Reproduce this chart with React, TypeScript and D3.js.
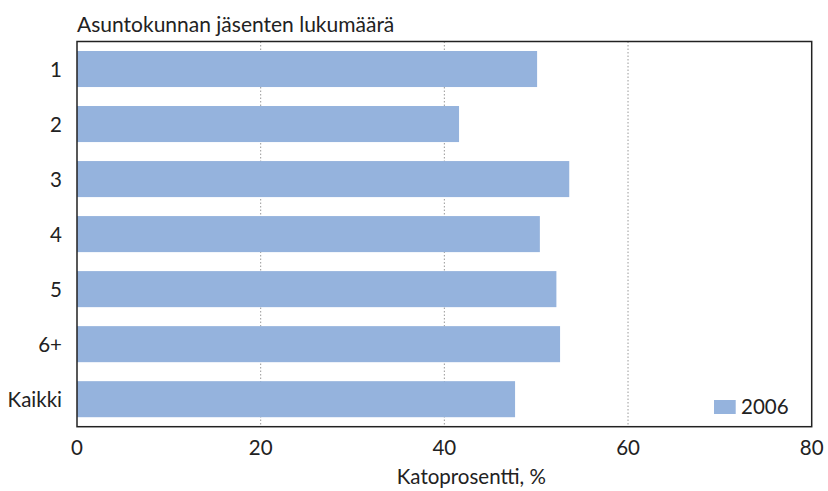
import React from "react";
import * as d3 from "d3";

const categories = ["1", "2", "3", "4", "5", "6+", "Kaikki"];
const values2006 = [50.1, 41.6, 53.6, 50.4, 52.2, 52.6, 47.7];
const xTicks = [0, 20, 40, 60, 80];
const seriesName = "2006";
const title = "Asuntokunnan jäsenten lukumäärä";
const xTitle = "Katoprosentti, %";

const W = 828;
const H = 491;
const margin = { left: 77, right: 16.3, top: 41.5, bottom: 64.3 };
const FONT = "Lato, 'Noto Sans', sans-serif";
const BAR = "#95b3dd";
const TXT = "#222";

export default function App() {
  const x = d3.scaleLinear().domain([0, 80]).range([margin.left, W - margin.right]);
  const y = d3
    .scaleBand<string>()
    .domain(categories)
    .range([margin.top, H - margin.bottom])
    .paddingInner(0.345)
    .paddingOuter(0.1725);
  const top = margin.top;
  const bottom = H - margin.bottom;
  const left = margin.left;
  const right = W - margin.right;
  return (
    <svg width={W} height={H} style={{ position: "absolute", left: 0, top: 0 }}>
      <rect x={0} y={0} width={W} height={H} fill="#fff" />
      {xTicks
        .filter((t) => t > 0 && t < 80)
        .map((t) => (
          <line key={t} x1={x(t)} x2={x(t)} y1={top} y2={bottom} stroke="#999" strokeWidth={1} strokeDasharray="1.5,2" />
        ))}
      {categories.map((c, i) => (
        <rect key={c} x={x(0)} y={y(c)} width={x(values2006[i]) - x(0)} height={y.bandwidth()} fill={BAR} />
      ))}
      <rect x={left} y={top} width={right - left} height={bottom - top} fill="none" stroke="#222" strokeWidth={1.5} />
      {categories.map((c) => (
        <text key={c} x={62} y={(y(c) as number) + y.bandwidth() / 2 + 7.5} textAnchor="end" fontFamily={FONT} fontSize={20.5} fill={TXT}>
          {c}
        </text>
      ))}
      {xTicks.map((t) => (
        <text key={t} x={x(t)} y={455} textAnchor="middle" fontFamily={FONT} fontSize={20.5} fill={TXT}>
          {t}
        </text>
      ))}
      <text x={(left + right) / 2 + 27} y={484} textAnchor="middle" fontFamily={FONT} fontSize={20.5} fill={TXT}>
        {xTitle}
      </text>
      <text x={77} y={32} fontFamily={FONT} fontSize={21} fill={TXT}>
        {title}
      </text>
      <rect x={714} y={400} width={21.7} height={14} fill={BAR} />
      <text x={741} y={414} fontFamily={FONT} fontSize={20.5} fill={TXT}>
        {seriesName}
      </text>
    </svg>
  );
}
